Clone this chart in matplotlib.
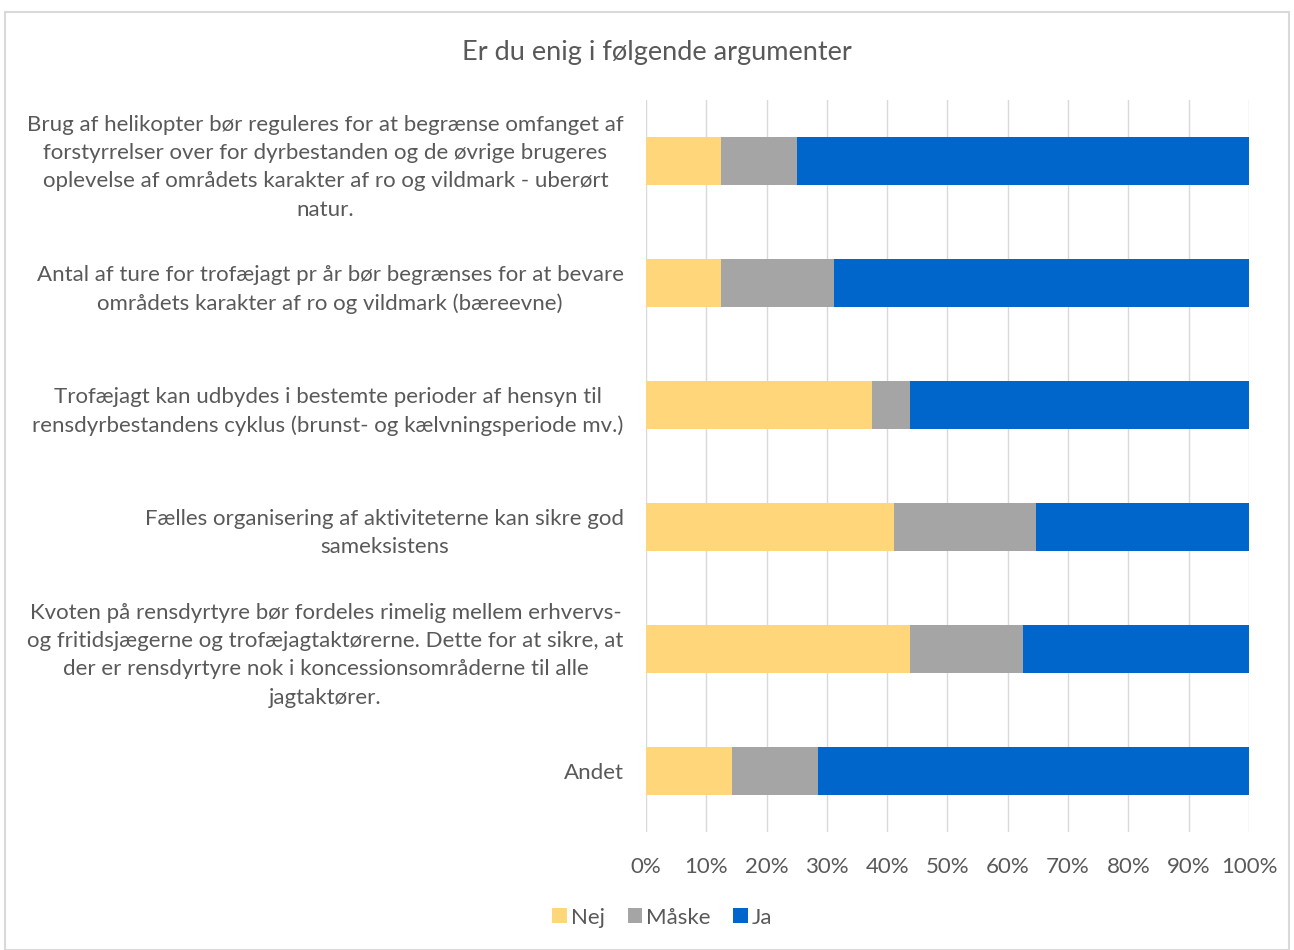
import numpy as np
import matplotlib.pyplot as plt
from matplotlib.patches import Rectangle

plt.rcParams['font.family'] = ['Lato', 'DejaVu Sans']

categories = [
    "Brug af helikopter bør reguleres for at begrænse omfanget af\nforstyrrelser over for dyrbestanden og de øvrige brugeres\noplevelse af områdets karakter af ro og vildmark - uberørt\nnatur.",
    "Antal af ture for trofæjagt pr år bør begrænses for at bevare\nområdets karakter af ro og vildmark (bæreevne)",
    "Trofæjagt kan udbydes i bestemte perioder af hensyn til\nrensdyrbestandens cyklus (brunst- og kælvningsperiode mv.)",
    "Fælles organisering af aktiviteterne kan sikre god\nsameksistens",
    "Kvoten på rensdyrtyre bør fordeles rimelig mellem erhvervs-\nog fritidsjægerne og trofæjagtaktørerne. Dette for at sikre, at\nder er rensdyrtyre nok i koncessionsområderne til alle\njagtaktører.",
    "Andet",
]
nej = [12.5, 12.5, 37.5, 41.2, 43.75, 14.3]
maske = [12.5, 18.75, 6.25, 23.5, 18.75, 14.3]
ja = [75.0, 68.75, 56.25, 35.3, 37.5, 71.4]
series = ["Nej", "Måske", "Ja"]
colors = ["#FFD679", "#A5A5A5", "#0066CC"]
txt = "#595959"

fig = plt.figure(figsize=(12.94, 9.5), dpi=100)
fig.patches.append(Rectangle((0.004, 0.0), 0.992, 0.987, transform=fig.transFigure,
                             fill=False, edgecolor="#D9D9D9", linewidth=1.5))
ax = fig.add_axes([0.4992, 0.1242, 0.4660, 0.7705])

y = np.arange(len(categories))
left = np.zeros(len(categories))
tot = np.array(nej) + np.array(maske) + np.array(ja)
for name, vals, c in zip(series, [nej, maske, ja], colors):
    v = np.array(vals) / tot * 100
    ax.barh(y, v, left=left, height=0.39, color=c, label=name, zorder=3)
    left += v

ax.set_ylim(len(categories) - 0.5, -0.5)
ax.set_xlim(0, 100)
ax.set_xticks(np.arange(0, 101, 10))
ax.set_xticklabels([f"{t}%" for t in range(0, 101, 10)], fontsize=16, color=txt)
ax.set_yticks(y)
ax.set_yticklabels(categories, fontsize=16, color=txt, linespacing=1.52,
                   multialignment='center')
ax.tick_params(axis='both', length=0)
ax.tick_params(axis='y', pad=16)
ax.tick_params(axis='x', pad=18)
ax.grid(axis='x', color="#D9D9D9", linewidth=1, zorder=0)
for s in ax.spines.values():
    s.set_visible(False)

fig.text(0.508, 0.945, "Er du enig i følgende argumenter", ha='center', va='center',
         fontsize=19.5, color=txt)
fig.legend(loc='center', bbox_to_anchor=(0.512, 0.034), ncol=3, frameon=False,
           fontsize=16, labelcolor=txt, handlelength=0.65, handleheight=0.65,
           handletextpad=0.2, columnspacing=1.0)

fig.savefig("out.png", dpi=100)
